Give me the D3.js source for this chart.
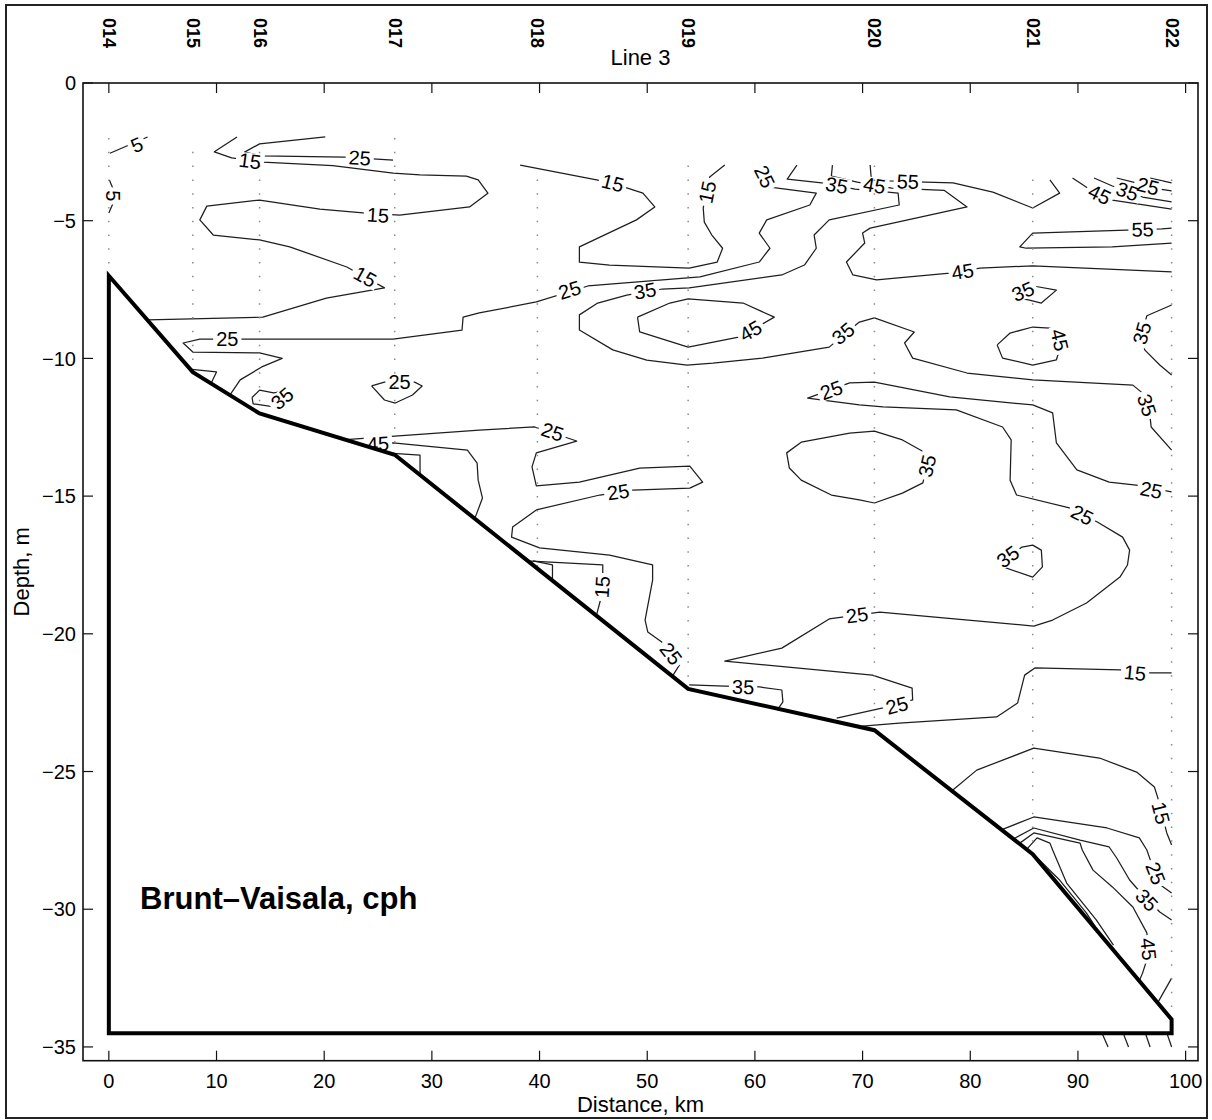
<!DOCTYPE html>
<html>
<head>
<meta charset="utf-8">
<script src="https://cdn.jsdelivr.net/npm/d3@7"></script>
<style>
  html, body { margin: 0; padding: 0; background: #fff; }
  svg text { font-family: "Liberation Sans", Arial, Helvetica, sans-serif; }
</style>
</head>
<body>
<svg id="chart" width="1212" height="1120"></svg>
<script>
// ---- Stations along Line 3 ----
const stationNames = ["014", "015", "016", "017", "018", "019", "020", "021", "022"];
const stationKm    = [0, 7.8, 14.0, 26.55, 39.8, 53.8, 71.1, 85.8, 98.7];
const stationTop   = [-2.0, -2.5, -2.5, -2.0, -3.5, -3.0, -3.0, -3.5, -3.5];

// ---- Bottom profile (closed outline of the sea floor) ----
const bottomKm    = [0, 7.8, 14.0, 26.55, 53.8, 71.1, 85.8, 98.7, 98.7, 0];
const bottomDepth = [-7, -10.5, -12, -13.5, -22, -23.5, -28, -34, -34.5, -34.5];

// ---- Axis ticks ----
const xTicks = [0, 10, 20, 30, 40, 50, 60, 70, 80, 90, 100];
const yTicks = [0, -5, -10, -15, -20, -25, -30, -35];

// ---- Brunt-Vaisala contours, [distance km, depth m] ----
const contour5 = [
  [[0.1, -2.55], [3.6, -1.96]],
  [[0.05, -3.52], [0.35, -3.8], [0.35, -4.4], [0.0, -4.72]]
];
const labels5 = [[2.6, -2.25], [0.38, -4.1]];

const contour15 = [
  [[11.9, -1.96], [9.8, -2.5], [11.4, -2.72], [14.3, -2.87], [20.8, -3.0], [26.4, -3.27], [28.9, -3.34],
   [33.2, -3.38], [34.3, -3.52], [35.2, -4.0], [33.5, -4.5], [27.0, -4.8], [23.6, -4.72], [19.6, -4.58],
   [14.0, -4.25], [9.1, -4.47], [8.45, -4.97], [9.7, -5.52], [14.0, -5.7], [16.8, -5.95], [22.1, -6.68],
   [25.6, -7.44], [20.2, -7.81], [14.3, -8.5], [3.6, -8.6]],
  [[38.2, -2.98], [45.3, -3.52], [48.1, -3.81], [49.6, -4.0], [50.7, -4.5], [49.0, -4.97], [43.7, -5.95],
   [43.7, -6.5], [46.5, -6.61], [53.9, -6.72], [56.5, -6.5], [57.0, -6.0], [56.0, -5.52], [55.3, -5.05],
   [55.2, -4.54], [55.8, -3.41], [57.2, -2.98]],
  [[96.7, -3.45], [98.7, -3.63]],
  [[38.8, -17.35], [45.87, -17.5], [45.87, -18.05], [45.78, -18.59], [45.3, -19.3]],
  [[70.0, -23.35], [73.4, -23.24], [82.45, -23.02], [84.4, -22.51], [85.05, -21.5], [86.0, -21.24],
   [93.9, -21.31], [96.7, -21.42], [98.7, -21.42]],
  [[78.3, -25.7], [80.6, -24.95], [85.9, -24.15], [92.0, -24.51], [95.45, -25.02], [97.1, -25.56],
   [97.4, -25.93], [98.25, -27.23], [98.7, -27.67]]
];
const labels15 = [[13.1, -2.83], [25.0, -4.8], [23.8, -7.04], [46.8, -3.63], [55.6, -3.96],
                  [45.82, -18.3], [95.3, -21.42], [97.7, -26.51]];

const contour25 = [
  [[20.1, -1.96], [14.0, -2.21], [12.6, -2.51], [14.2, -2.65], [21.9, -2.69], [24.9, -2.76], [26.4, -2.8]],
  [[60.4, -2.98], [61.4, -3.78], [65.7, -4.0], [65.1, -4.43], [61.1, -4.97], [60.4, -5.45], [61.4, -6.0],
   [60.4, -6.5], [54.9, -7.04], [44.5, -7.37], [39.7, -7.95], [34.4, -8.35], [32.9, -8.5], [32.8, -8.97],
   [26.4, -9.3], [12.3, -9.3], [8.45, -9.3], [6.9, -9.44], [7.8, -9.77], [14.0, -9.8], [16.1, -10.0],
   [14.2, -10.31], [12.2, -10.78], [11.3, -11.3]],
  [[93.6, -3.45], [95.4, -3.63], [97.6, -3.85], [98.7, -3.92]],
  [[98.7, -14.85], [95.4, -14.6], [92.9, -14.49], [89.9, -14.05], [88.0, -13.07], [87.65, -11.98],
   [85.8, -11.69], [78.1, -11.4], [71.1, -10.86], [68.8, -10.89], [64.9, -11.44], [69.7, -11.69],
   [71.9, -11.76], [78.7, -11.87], [83.0, -12.49], [83.8, -12.96], [83.7, -14.42], [84.3, -14.96],
   [89.2, -15.43], [91.8, -15.94], [94.15, -16.49], [94.8, -16.96], [94.6, -17.5], [93.9, -17.94],
   [90.8, -18.88], [87.65, -19.5], [85.9, -19.72], [71.6, -19.21], [68.1, -19.39], [66.9, -19.46],
   [62.5, -20.52], [57.2, -20.99], [70.9, -21.5], [74.6, -21.97], [74.65, -22.4], [71.9, -22.69],
   [67.6, -23.06]],
  [[83.0, -27.1], [85.9, -26.65], [92.7, -27.05], [95.7, -27.41], [96.4, -27.85], [96.8, -28.3],
   [97.6, -29.1], [98.7, -29.41]],
  [[24.4, -11.0], [25.6, -10.86], [28.4, -10.86], [29.1, -11.0], [28.2, -11.33], [26.6, -11.62],
   [25.6, -11.51], [24.4, -11.0]],
  [[22.0, -12.95], [34.4, -12.6], [39.55, -12.49], [43.45, -13.0], [39.7, -13.43], [39.3, -13.94],
   [39.7, -14.63], [43.7, -14.49], [49.3, -13.98], [53.95, -13.91], [55.15, -14.49], [53.95, -14.71],
   [48.65, -14.78], [45.6, -14.96], [39.7, -15.5], [37.5, -16.12], [37.4, -16.49], [40.0, -16.88],
   [46.5, -17.14], [50.5, -17.5], [50.5, -18.05], [49.8, -19.5], [50.05, -19.93], [51.35, -20.3],
   [53.0, -21.13], [52.4, -21.5]]
];
const labels25 = [[23.3, -2.72], [60.9, -3.4], [42.8, -7.52], [11.0, -9.3], [96.5, -3.75],
                  [96.8, -14.78], [67.1, -11.15], [90.4, -15.69], [69.5, -19.32], [73.2, -22.6],
                  [97.2, -28.7], [27.0, -10.86], [41.2, -12.67], [47.3, -14.85], [52.2, -20.72]];

const contour35 = [
  [[63.9, -2.98], [63.0, -3.49], [66.2, -3.63], [69.3, -3.85], [72.1, -3.95], [73.3, -4.0], [73.4, -4.43],
   [66.9, -4.97], [65.5, -5.52], [65.7, -6.0], [64.6, -6.61], [62.5, -6.97], [53.9, -7.44], [51.4, -7.48],
   [48.1, -7.7], [45.4, -7.99], [43.7, -8.42], [43.7, -8.97], [46.8, -9.69], [49.95, -10.06],
   [53.7, -10.24], [56.1, -10.17], [60.7, -9.99], [66.9, -9.59], [69.7, -8.68], [71.1, -8.53],
   [74.8, -9.04], [73.9, -9.44], [74.65, -9.99], [79.7, -10.53], [85.8, -10.78], [95.1, -10.97],
   [96.0, -11.26], [96.7, -12.13], [96.8, -12.49], [98.7, -13.33]],
  [[91.5, -3.45], [93.2, -3.74], [96.0, -4.14], [98.7, -4.32]],
  [[83.8, -7.75], [86.0, -7.38], [88.0, -7.52], [86.6, -7.99], [85.5, -7.88], [83.8, -7.75]],
  [[98.7, -8.06], [96.4, -8.45], [95.95, -9.08], [96.2, -9.69], [97.6, -10.24], [98.7, -10.6]],
  [[68.8, -12.71], [71.1, -12.64], [73.7, -12.96], [76.2, -13.51], [75.6, -14.52], [73.7, -14.89],
   [71.1, -15.25], [69.7, -15.14], [67.1, -14.96], [64.3, -14.42], [63.2, -13.98], [62.95, -13.43],
   [64.3, -13.04], [68.8, -12.71]],
  [[82.5, -17.5], [85.8, -17.94], [86.7, -17.57], [86.6, -16.96], [85.8, -16.78], [84.8, -16.85],
   [82.5, -17.5]],
  [[84.0, -27.45], [85.9, -27.05], [90.2, -27.49], [92.9, -27.74], [93.6, -28.14], [94.8, -28.94],
   [95.45, -29.23], [97.6, -30.1], [98.7, -30.39]],
  [[13.3, -11.42], [14.0, -11.15], [15.3, -11.25], [17.0, -11.15], [15.2, -11.75], [13.4, -11.65],
   [13.3, -11.42]],
  [[53.9, -21.85], [57.2, -21.9], [60.45, -21.93], [62.5, -22.04], [62.6, -22.47], [62.1, -22.75]]
];
const labels35 = [[67.6, -3.72], [49.8, -7.55], [68.2, -9.1], [96.4, -11.7], [94.6, -3.94],
                  [84.9, -7.57], [95.95, -9.08], [76.0, -13.9], [83.5, -17.2], [96.4, -29.67],
                  [16.1, -11.45], [58.9, -21.93]];

const contour45 = [
  [[67.2, -2.98], [67.1, -3.38], [69.5, -3.6], [72.7, -3.82], [77.6, -3.9], [79.7, -4.5], [70.7, -5.27],
   [70.0, -5.45], [70.2, -5.81], [68.5, -6.5], [69.1, -6.97], [71.3, -7.15], [78.1, -6.9], [80.9, -6.72],
   [85.8, -6.64], [98.7, -6.86]],
  [[89.5, -3.45], [90.9, -3.81], [93.2, -4.25], [98.7, -4.58]],
  [[82.5, -9.51], [83.0, -9.99], [85.8, -10.24], [88.0, -10.05], [88.4, -9.55], [88.1, -9.05],
   [87.4, -8.9], [85.8, -8.86], [83.7, -9.08], [82.5, -9.51]],
  [[49.1, -8.5], [49.3, -9.04], [53.8, -9.59], [58.6, -9.22], [61.8, -8.5], [58.9, -7.99], [53.8, -7.84],
   [52.1, -7.99], [49.1, -8.5]],
  [[84.6, -27.6], [85.9, -27.23], [90.2, -27.6], [90.4, -27.85], [91.4, -28.58], [93.2, -29.19],
   [95.1, -29.92], [96.4, -30.86], [96.6, -31.6], [96.0, -32.32], [95.7, -32.6]],
  [[23.3, -13.12], [26.4, -13.07], [33.3, -13.33], [34.2, -13.8], [34.3, -14.42], [34.7, -15.07],
   [34.0, -15.8]]
];
const labels45 = [[71.1, -3.72], [79.3, -6.85], [92.0, -4.05], [88.3, -9.33], [59.6, -9.0],
                  [96.55, -31.45], [25.0, -13.1]];

const contour55 = [
  [[70.7, -2.98], [70.8, -3.45], [72.5, -3.55], [75.8, -3.6], [78.4, -3.63], [82.1, -3.96], [85.8, -4.54],
   [88.3, -4.0], [87.4, -3.52]],
  [[98.7, -5.27], [97.8, -5.3], [94.5, -5.34], [85.8, -5.45], [84.6, -5.95], [85.2, -6.0], [93.2, -5.95],
   [98.7, -5.81]],
  [[85.3, -27.8], [86.2, -27.41], [87.4, -27.6], [87.65, -27.85], [88.95, -29.05], [91.7, -30.39],
   [93.3, -31.3]]
];
const labels55 = [[74.2, -3.58], [96.0, -5.32]];

// steep pieces against the slope and below the bottom line (no labels)
const contourUnlabeled = [
  [[86.0, -28.05], [88.3, -28.94], [90.8, -30.14], [91.8, -30.75]],
  [[7.7, -10.4], [10.0, -10.49], [9.5, -10.9]],
  [[26.4, -13.45], [28.9, -13.51], [28.9, -14.2]],
  [[39.4, -17.35], [41.2, -17.5], [41.2, -18.0]],
  [[97.4, -33.4], [98.7, -32.5]],
  [[91.9, -34.2], [92.8, -35.0]],
  [[93.9, -34.2], [94.7, -35.0]],
  [[96.0, -34.2], [96.7, -35.0]],
  [[98.0, -34.2], [98.7, -35.0]]
];

const contourSets = [
  { level: 5,  lines: contour5,  labels: labels5 },
  { level: 15, lines: contour15, labels: labels15 },
  { level: 25, lines: contour25, labels: labels25 },
  { level: 35, lines: contour35, labels: labels35 },
  { level: 45, lines: contour45, labels: labels45 },
  { level: 55, lines: contour55, labels: labels55 },
  { level: null, lines: contourUnlabeled, labels: [] }
];

// ---- Layout ----
const W = 1212, H = 1120;
const plot = { left: 83, right: 1198, top: 83, bottom: 1060.7 };
const x = d3.scaleLinear().domain([-2.4, 101.15]).range([plot.left, plot.right]);
const y = d3.scaleLinear().domain([-35.5, 0]).range([plot.bottom, plot.top]);

const svg = d3.select("#chart");
svg.append("rect").attr("width", W).attr("height", H).attr("fill", "#fff");

// figure frame
svg.append("rect")
  .attr("x", 6).attr("y", 5).attr("width", 1201).attr("height", 1113)
  .attr("fill", "none").attr("stroke", "#222").attr("stroke-width", 2);

const defs = svg.append("defs");
const mask = defs.append("mask").attr("id", "labelGaps")
  .attr("maskUnits", "userSpaceOnUse")
  .attr("x", 0).attr("y", 0).attr("width", W).attr("height", H);
mask.append("rect").attr("width", W).attr("height", H).attr("fill", "#fff");

const lineGen = d3.line().x(d => x(d[0])).y(d => y(d[1]));

// contour lines, broken where their labels sit
const gLines = svg.append("g").attr("mask", "url(#labelGaps)");
contourSets.forEach(set => {
  set.lines.forEach(line => {
    gLines.append("path")
      .attr("d", lineGen(line))
      .attr("fill", "none")
      .attr("stroke", "#1e1e1e")
      .attr("stroke-width", 1.25)
      .attr("stroke-linejoin", "round");
  });
});

// station sample columns (0.5 m spacing)
const bottomAt = d3.scaleLinear().domain(bottomKm.slice(0, 8)).range(bottomDepth.slice(0, 8));
const step = Math.abs(y(-0.5) - y(0));
svg.append("g").selectAll("line")
  .data(stationKm)
  .join("line")
  .attr("x1", d => x(d)).attr("x2", d => x(d))
  .attr("y1", (d, i) => y(stationTop[i]))
  .attr("y2", d => y(bottomAt(d)))
  .attr("stroke", "#8a8a8a")
  .attr("stroke-width", 1.5)
  .attr("stroke-dasharray", `1.5 ${step - 1.5}`);

// label orientation follows the nearest contour segment
function labelAngle(pt, lines) {
  const px = x(pt[0]), py = y(pt[1]);
  let best = Infinity, ang = 0;
  lines.forEach(line => {
    for (let i = 0; i < line.length - 1; i++) {
      const ax = x(line[i][0]), ay = y(line[i][1]);
      const bx = x(line[i + 1][0]), by = y(line[i + 1][1]);
      const dx = bx - ax, dy = by - ay;
      const len2 = dx * dx + dy * dy || 1;
      let t = ((px - ax) * dx + (py - ay) * dy) / len2;
      t = Math.max(0, Math.min(1, t));
      const qx = ax + t * dx, qy = ay + t * dy;
      const dist = Math.hypot(px - qx, py - qy);
      if (dist < best) { best = dist; ang = Math.atan2(dy, dx) * 180 / Math.PI; }
    }
  });
  if (ang > 90) ang -= 180;
  if (ang <= -90) ang += 180;
  return ang;
}

const gLabels = svg.append("g");
contourSets.forEach(set => {
  set.labels.forEach(pt => {
    const px = x(pt[0]), py = y(pt[1]);
    const ang = labelAngle(pt, set.lines);
    const t = gLabels.append("text")
      .attr("x", px).attr("y", py)
      .attr("text-anchor", "middle")
      .attr("dominant-baseline", "central")
      .attr("font-size", 20)
      .attr("fill", "#000")
      .attr("transform", `rotate(${ang},${px},${py})`)
      .text(set.level);
    const w = t.node().getBBox().width;
    mask.append("rect")
      .attr("x", px - w / 2 - 3).attr("y", py - 8)
      .attr("width", w + 6).attr("height", 16)
      .attr("fill", "#000")
      .attr("transform", `rotate(${ang},${px},${py})`);
  });
});

// sea floor
const floorPts = bottomKm.map((k, i) => [k, bottomDepth[i]]);
svg.append("path")
  .attr("d", lineGen(floorPts) + "Z")
  .attr("fill", "#fff")
  .attr("stroke", "#000")
  .attr("stroke-width", 4)
  .attr("stroke-linejoin", "miter");

svg.append("text")
  .attr("x", x(2.9)).attr("y", y(-30))
  .attr("font-size", 31).attr("font-weight", "bold")
  .attr("fill", "#000")
  .text("Brunt\u2013Vaisala, cph");

// axes box with inward ticks on every side
const gAxes = svg.append("g");
gAxes.append("rect")
  .attr("x", plot.left).attr("y", plot.top)
  .attr("width", plot.right - plot.left).attr("height", plot.bottom - plot.top)
  .attr("fill", "none").attr("stroke", "#111").attr("stroke-width", 1.6);
const tickLen = 10;
xTicks.forEach(v => {
  gAxes.append("line").attr("x1", x(v)).attr("x2", x(v))
    .attr("y1", plot.bottom).attr("y2", plot.bottom - tickLen)
    .attr("stroke", "#111").attr("stroke-width", 1.2);
  gAxes.append("line").attr("x1", x(v)).attr("x2", x(v))
    .attr("y1", plot.top).attr("y2", plot.top + tickLen)
    .attr("stroke", "#111").attr("stroke-width", 1.2);
  gAxes.append("text").attr("x", x(v)).attr("y", 1088)
    .attr("text-anchor", "middle").attr("font-size", 20).attr("fill", "#000")
    .text(v);
});
yTicks.forEach(v => {
  gAxes.append("line").attr("x1", plot.left).attr("x2", plot.left + tickLen)
    .attr("y1", y(v)).attr("y2", y(v))
    .attr("stroke", "#111").attr("stroke-width", 1.2);
  gAxes.append("line").attr("x1", plot.right).attr("x2", plot.right - tickLen)
    .attr("y1", y(v)).attr("y2", y(v))
    .attr("stroke", "#111").attr("stroke-width", 1.2);
  gAxes.append("text").attr("x", 76).attr("y", y(v))
    .attr("dy", "0.36em")
    .attr("text-anchor", "end").attr("font-size", 20).attr("fill", "#000")
    .text(v === 0 ? "0" : "\u2212" + Math.abs(v));
});

// station names along the top
svg.append("g").selectAll("text")
  .data(stationNames)
  .join("text")
  .attr("x", (d, i) => x(stationKm[i]))
  .attr("y", 18)
  .attr("transform", (d, i) => `rotate(90,${x(stationKm[i])},18)`)
  .attr("text-anchor", "start")
  .attr("dominant-baseline", "central")
  .attr("font-size", 18).attr("font-weight", "bold").attr("fill", "#000")
  .text(d => d);

// titles
svg.append("text").attr("x", (plot.left + plot.right) / 2).attr("y", 65)
  .attr("text-anchor", "middle").attr("font-size", 22).attr("fill", "#000")
  .text("Line 3");
svg.append("text").attr("x", (plot.left + plot.right) / 2).attr("y", 1112)
  .attr("text-anchor", "middle").attr("font-size", 22).attr("fill", "#000")
  .text("Distance, km");
svg.append("text")
  .attr("transform", `translate(29,${(plot.top + plot.bottom) / 2}) rotate(-90)`)
  .attr("text-anchor", "middle").attr("font-size", 22).attr("fill", "#000")
  .text("Depth, m");
</script>
</body>
</html>
